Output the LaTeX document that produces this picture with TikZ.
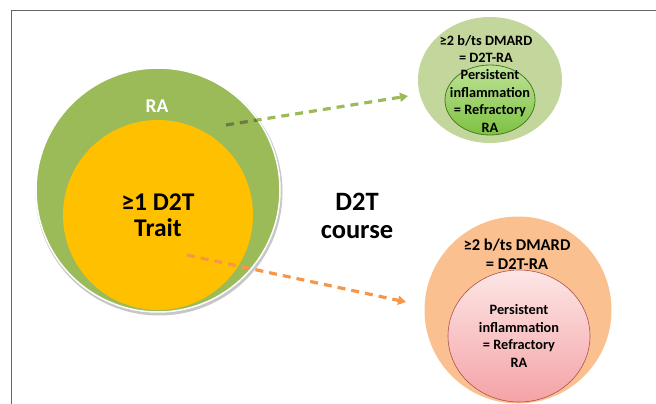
\documentclass[tikz,border=0pt]{standalone}
\usepackage{fontspec}
\setmainfont{Carlito}
\usetikzlibrary{arrows.meta,shapes.geometric,calc,positioning}

\definecolor{raGreen}{HTML}{9BBB59}
\definecolor{traitYellow}{HTML}{FFC000}
\definecolor{paleGreen}{HTML}{C3D69B}
\definecolor{limeTop}{HTML}{BFE397}
\definecolor{limeBot}{HTML}{7DC242}
\definecolor{limeEdge}{HTML}{4E7A27}
\definecolor{peach}{HTML}{FAC090}
\definecolor{pinkTop}{HTML}{FDE6E6}
\definecolor{pinkBot}{HTML}{F4A3A6}
\definecolor{pinkEdge}{HTML}{B0504D}
\definecolor{arrowOrange}{HTML}{F79646}
\definecolor{olive}{HTML}{6B7D45}
\definecolor{frameGray}{HTML}{666666}

\begin{document}
\begin{tikzpicture}[x=1pt, y=-1pt, font=\bfseries,
    disc/.style={circle, inner sep=0pt, outer sep=0pt},
    oval/.style={ellipse, inner sep=0pt, outer sep=0pt},
    words/.style={align=center, inner sep=0pt, text=black},
    flow/.style={line width=3.2pt, dash pattern=on 8pt off 6pt,
      -{Triangle[length=8pt, width=9pt]}}]
    \useasboundingbox (0,0) rectangle (656,404);
    \draw[frameGray, line width=1pt] (11,404) -- (11,11) -- (656,11);

    % left: RA with the D2T trait inside
    \fill[black!22] (159,192) circle (123.5);
    \node (ra) [disc, minimum size=244pt, fill=raGreen, draw=white, line width=1.5pt] at (158,190) {};
    \node (trait) [disc, minimum size=190pt, fill=traitYellow] at (158,215) {};
    \node (ratxt) [words, text=white, font=\bfseries\fontsize{19.5}{22}\selectfont] at ($(ra)+(-1,-84)$) {RA};
    \node (traittxt) [words, font=\bfseries\fontsize{25.5}{26}\selectfont] at (trait) {≥1 D2T\\Trait};

    % middle
    \node (course) [words, font=\bfseries\fontsize{26.5}{28}\selectfont] at (357,216) {D2T\\course};

    % right, top
    \node (topout) [oval, minimum width=144pt, minimum height=126pt, fill=paleGreen] at (490,80) {};
    \node (topin) [oval, minimum width=90pt, minimum height=70pt, top color=limeTop, bottom color=limeBot, draw=limeEdge, line width=0.8pt] at (490,100) {};
    \node (toptxt) [words, font=\bfseries\fontsize{14.3}{17.2}\selectfont] at ($(topout)+(-4,-31)$) {≥2 b/ts DMARD\\= D2T-RA};
    \node (topintxt) [words, font=\bfseries\fontsize{14.3}{17.4}\selectfont] at ($(topin)+(0,1)$) {Persistent\\inflammation\\= Refractory\\RA};

    % right, bottom
    \node (botout) [disc, minimum size=187pt, fill=peach] at (518,310) {};
    \node (botin) [oval, minimum width=142pt, minimum height=132pt, top color=pinkTop, bottom color=pinkBot, draw=pinkEdge, line width=0.6pt] at (519,336) {};
    \node (bottxt) [words, font=\bfseries\fontsize{16.5}{18.5}\selectfont] at ($(botout)+(-1,-56)$) {≥2 b/ts DMARD\\= D2T-RA};
    \node (bintxt) [words, font=\bfseries\fontsize{14.3}{17.6}\selectfont] at (botin) {Persistent\\inflammation\\= Refractory\\RA};

    % the two courses
    \coordinate (gfrom) at ($(ra)+(68,-65)$);
    \coordinate (gto) at ($(topout)+(-82,16)$);
    \coordinate (ofrom) at ($(trait)+(29,40)$);
    \coordinate (oto) at ($(botout)+(-112,-8)$);
    \draw[flow, raGreen] (gfrom) -- (gto);
    \begin{scope}
      \clip (ra) circle (121);
      \draw[flow, olive] (gfrom) -- (gto);
    \end{scope}
    \draw[flow, arrowOrange] (ofrom) -- (oto);
\end{tikzpicture}
\end{document}
